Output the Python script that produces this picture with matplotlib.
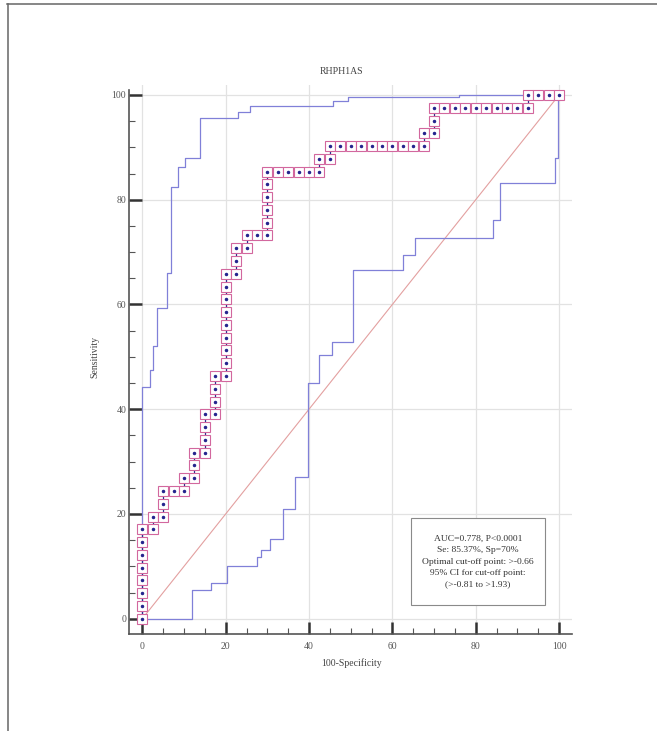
import matplotlib
matplotlib.use("Agg")
import matplotlib.pyplot as plt
from matplotlib.ticker import MultipleLocator
from matplotlib.patches import Rectangle
from matplotlib.lines import Line2D

# ---- data ----
title = "RHPH1AS"
xlabel = "100-Specificity"
ylabel = "Sensitivity"
ticks = [0, 20, 40, 60, 80, 100]

roc_fpr = [0, 0, 0, 0, 0, 0, 0, 0,
           2.5, 2.5,
           5, 5, 5,
           7.5,
           10, 10,
           12.5, 12.5, 12.5,
           15, 15, 15, 15,
           17.5, 17.5, 17.5, 17.5,
           20, 20, 20, 20, 20, 20, 20, 20, 20,
           22.5, 22.5, 22.5,
           25, 25,
           27.5,
           30, 30, 30, 30, 30, 30,
           32.5, 35, 37.5, 40,
           42.5, 42.5,
           45, 45,
           47.5, 50, 52.5, 55, 57.5, 60, 62.5, 65,
           67.5, 67.5,
           70, 70, 70,
           72.5, 75, 77.5, 80, 82.5, 85, 87.5, 90,
           92.5, 92.5,
           95, 97.5, 100]
roc_tpr = [0, 2.44, 4.88, 7.32, 9.76, 12.20, 14.63, 17.07,
           17.07, 19.51,
           19.51, 21.95, 24.39,
           24.39,
           24.39, 26.83,
           26.83, 29.27, 31.71,
           31.71, 34.15, 36.59, 39.02,
           39.02, 41.46, 43.90, 46.34,
           46.34, 48.78, 51.22, 53.66, 56.10, 58.54, 60.98, 63.41, 65.85,
           65.85, 68.29, 70.73,
           70.73, 73.17,
           73.17,
           73.17, 75.61, 78.05, 80.49, 82.93, 85.37,
           85.37, 85.37, 85.37, 85.37,
           85.37, 87.80,
           87.80, 90.24,
           90.24, 90.24, 90.24, 90.24, 90.24, 90.24, 90.24, 90.24,
           90.24, 92.68,
           92.68, 95.12, 97.56,
           97.56, 97.56, 97.56, 97.56, 97.56, 97.56, 97.56, 97.56,
           97.56, 100,
           100, 100, 100]

ci_upper_x = [0, 0, 1.8, 2.6, 3.4, 5.8, 6.8, 8.6, 10.2, 13.8, 23.0, 25.8, 45.8, 49.4, 76, 100]
ci_upper_y = [0, 44.3, 47.5, 52.0, 59.3, 66.0, 82.5, 86.2, 87.9, 95.6, 96.7, 97.8, 98.8, 99.7, 100, 100]

ci_lower_x = [0, 11.8, 16.4, 20.4, 27.4, 28.4, 30.6, 33.8, 36.6, 39.8, 42.5, 45.5, 50.6, 62.6, 65.4, 84.2, 85.8, 99.0, 99.8, 100]
ci_lower_y = [0, 5.5, 6.9, 10.1, 11.7, 13.1, 15.3, 20.9, 27.1, 45.0, 50.3, 52.8, 66.6, 69.5, 72.7, 76.2, 83.2, 88.0, 100, 100]

diag_x = [0, 100]
diag_y = [0, 100]

info_lines = ["AUC=0.778, P<0.0001",
              "Se: 85.37%, Sp=70%",
              "Optimal cut-off point: >-0.66",
              "95% CI for cut-off point:",
              "(>-0.81 to >1.93)"]

# ---- figure ----
W, H = 657, 731
fig = plt.figure(figsize=(W / 100, H / 100), dpi=100)
fig.patch.set_facecolor("white")
serif = "Liberation Serif"

ax_left, ax_right, ax_top, ax_bot = 129, 572, 85, 634
ax = fig.add_axes([ax_left / W, 1 - ax_bot / H, (ax_right - ax_left) / W, (ax_bot - ax_top) / H])
ax.set_xlim(-3.2, 103.1)
ax.set_ylim(-2.92, 101.9)

ax.grid(True, which="major", color="#e2e2e2", lw=0.9, zorder=0)
ax.set_axisbelow(True)

ax.plot(diag_x, diag_y, color="#e3a0a0", lw=0.8, zorder=2)
ax.plot(ci_upper_x, ci_upper_y, color="#8080d8", lw=0.9, drawstyle="steps-post", zorder=2)
ax.plot(ci_lower_x, ci_lower_y, color="#8080d8", lw=0.9, drawstyle="steps-post", zorder=2)

ax.plot(roc_fpr, roc_tpr, color="#2b2b8c", lw=0.9, zorder=3)
ax.plot(roc_fpr, roc_tpr, ls="none", marker="s", ms=7.9, mfc="white",
        mec="#d2679e", mew=0.8, zorder=4)
ax.plot(roc_fpr, roc_tpr, ls="none", marker="o", ms=1.5, color="#25258e", zorder=5)

for s in ["top", "right"]:
    ax.spines[s].set_visible(False)
for s in ["left", "bottom"]:
    ax.spines[s].set_color("#555555")
    ax.spines[s].set_linewidth(1.2)
ax.spines["left"].set_bounds(-2.92, 101.0)

ax.set_xticks(ticks)
ax.set_yticks(ticks)
ax.xaxis.set_minor_locator(MultipleLocator(5))
ax.yaxis.set_minor_locator(MultipleLocator(5))
ax.tick_params(which="major", direction="in", length=9, width=1.8, color="#333333",
               labelsize=7, labelcolor="#555555")
ax.tick_params(which="minor", direction="in", length=4.5, width=0.8, color="#555555")
ax.tick_params(axis="x", which="major", pad=6)
ax.tick_params(axis="y", which="major", pad=2)
for lab in ax.get_xticklabels() + ax.get_yticklabels():
    lab.set_family(serif)

# info box
ax.add_patch(Rectangle((64.5, 2.6), 32.1, 16.6, fill=True, facecolor="white",
                       edgecolor="#8a8a8a", lw=0.8, zorder=6))
ax.text(80.5, 10.9, "\n".join(info_lines), ha="center", va="center",
        fontsize=6.8, family=serif, color="#333333", linespacing=1.55, zorder=7)

# titles / labels
fig.text(341 / W, 1 - 72 / H, title, ha="center", va="center", fontsize=7,
         family=serif, color="#444444")
fig.text(351 / W, 1 - 663 / H, xlabel, ha="center", va="center", fontsize=7,
         family=serif, color="#444444")
fig.text(95 / W, 1 - 357 / H, ylabel, ha="center", va="center", fontsize=7,
         family=serif, color="#444444", rotation=90)

# page frame (top and left edges)
fig.add_artist(Line2D([7 / W, 1], [1 - 4 / H, 1 - 4 / H], transform=fig.transFigure,
                      color="#666666", lw=1.1))
fig.add_artist(Line2D([8 / W, 8 / W], [0, 1 - 4 / H], transform=fig.transFigure,
                      color="#666666", lw=1.1))

fig.savefig("out.png", dpi=100)
